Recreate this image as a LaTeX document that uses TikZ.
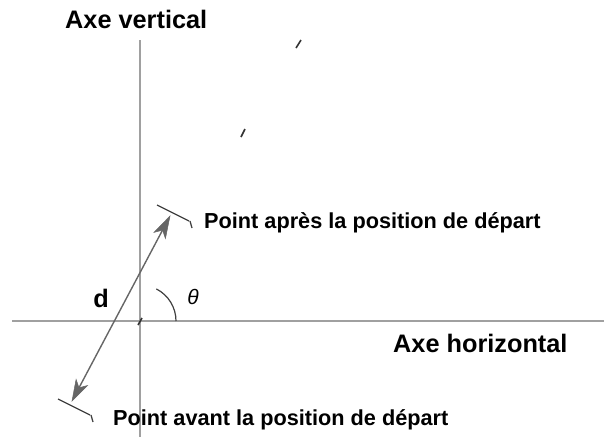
\documentclass[tikz,border=0pt]{standalone}
\usepackage{fontspec}
\setmainfont{Liberation Sans}
\usetikzlibrary{calc}
\definecolor{axisgray}{HTML}{A0A0A0}
\definecolor{arrowgray}{HTML}{666666}
\definecolor{bargray}{HTML}{404040}
\tikzset{
  axisline/.style={draw=axisgray, line width=1.2pt},
  dline/.style={draw=arrowgray, line width=1.4pt},
  headfill/.style={fill=arrowgray, draw=arrowgray, line width=0.5pt, line join=miter},
  barline/.style={draw=bargray, line width=1.3pt},
  slash/.style={draw=black!80, line width=1.6pt},
  lbl/.style={inner sep=0pt, font=\bfseries\fontsize{21.7}{24}\selectfont},
  biglbl/.style={inner sep=0pt, font=\bfseries\fontsize{25.3}{28}\selectfont},
}
\begin{document}
\begin{tikzpicture}[x=1pt,y=-1pt]
\useasboundingbox (0,0) rectangle (604,437);
% axes
\coordinate (vtop) at (140,40);
\coordinate (vbot) at (140,437);
\coordinate (hleft) at (12,321);
\coordinate (hright) at (604,321);
\draw[axisline] (vtop) -- (vbot);
\draw[axisline] (hleft) -- (hright);
% labels
\node[biglbl, anchor=west] (axev) at (65,19) {Axe vertical};
\node[biglbl, anchor=west] (axeh) at (393,343) {Axe horizontal};
\node[biglbl, anchor=center] (dlbl) at (101,298) {d};
\node[inner sep=0pt, font=\itshape\fontsize{21}{24}\selectfont] (theta) at (193,297) {θ};
\node[lbl, anchor=west] (apres) at (204,223) {Point après la position de départ};
\node[lbl, anchor=west] (avant) at (113,420) {Point avant la position de départ};
% angle arc
\coordinate (orig) at (140,321);
\draw[draw=black!75, line width=1.2pt] (176,321) arc[start angle=0, end angle=-63, radius=36];
% double arrow
\coordinate (ptop) at (170,216);
\coordinate (pbot) at (72,401);
\coordinate (htb) at ($(ptop)!22pt!(pbot)$);
\coordinate (hti) at ($(ptop)!16pt!(pbot)$);
\coordinate (hbb) at ($(pbot)!21pt!(ptop)$);
\coordinate (hbi) at ($(pbot)!15pt!(ptop)$);
\draw[dline] (hbi) -- (hti);
\fill[headfill] (ptop) -- ($(htb)!6.5pt!90:(ptop)$) -- (hti) -- ($(htb)!6.5pt!-90:(ptop)$) -- cycle;
\fill[headfill] (pbot) -- ($(hbb)!6.5pt!90:(pbot)$) -- (hbi) -- ($(hbb)!6.5pt!-90:(pbot)$) -- cycle;
% bars
\coordinate (b1a) at (157,205);
\coordinate (b1b) at (189,221);
\coordinate (t1a) at (190,221);
\coordinate (t1b) at (192,228);
\draw[barline] (b1a) -- (b1b);
\draw[barline] (t1a) -- (t1b);
\coordinate (b2a) at (58,399);
\coordinate (b2b) at (90,415);
\coordinate (t2a) at (91,415);
\coordinate (t2b) at (93,422);
\draw[barline] (b2a) -- (b2b);
\draw[barline] (t2a) -- (t2b);
% slashes
\coordinate (s1a) at (296,48); \coordinate (s1b) at (301,40);
\coordinate (s2a) at (241,137); \coordinate (s2b) at (245,129);
\coordinate (s3a) at (138,325); \coordinate (s3b) at (142,318);
\draw[slash] (s1a) -- (s1b);
\draw[slash] (s2a) -- (s2b);
\draw[slash] (s3a) -- (s3b);
\end{tikzpicture}
\end{document}
